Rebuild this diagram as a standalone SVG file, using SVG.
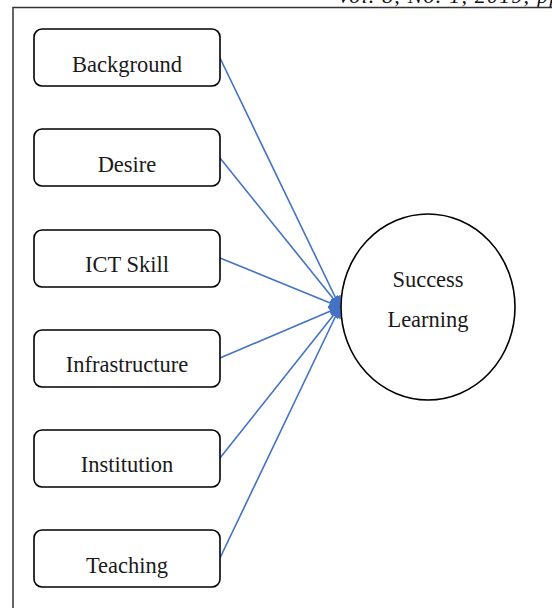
<svg xmlns="http://www.w3.org/2000/svg" width="552" height="608" viewBox="0 0 552 608">
  <style>
    .box { fill: #ffffff; stroke: #000000; stroke-width: 1.6; }
    .lbl { font-family: "Liberation Serif", "Times New Roman", serif; font-size: 22.5px; fill: #1a1a1a; text-anchor: middle; }
    .link { stroke: #4472C4; stroke-width: 1.6; fill: none; marker-end: url(#arrow); }
    .frame { stroke: #333333; stroke-width: 1.5; fill: none; }
    .header { font-family: "Liberation Serif", "Times New Roman", serif; font-style: italic; font-size: 22px; letter-spacing: 1.2px; fill: #111111; }
  </style>
  <defs>
    <marker id="arrow" viewBox="0 0 10 10" refX="9" refY="5" markerWidth="7.5" markerHeight="7.5" orient="auto" markerUnits="strokeWidth">
      <path d="M0,0 L10,5 L0,10 z" fill="#4472C4"/>
    </marker>
  </defs>
  <rect width="552" height="608" fill="#ffffff"/>

  <!-- running header, clipped at the top edge -->
  <text class="header" x="337" y="3">Vol. 8, No. 1, 2019, pp</text>

  <!-- page frame -->
  <path class="frame" d="M13,608 L13,7.5 L552,7.5"/>

  <g id="connectors">
    <line class="link" x1="220" y1="58" x2="340" y2="307"/>
    <line class="link" x1="220" y1="158" x2="340" y2="307"/>
    <line class="link" x1="220" y1="258" x2="340" y2="307"/>
    <line class="link" x1="220" y1="358" x2="340" y2="307"/>
    <line class="link" x1="220" y1="458" x2="340" y2="307"/>
    <line class="link" x1="220" y1="558" x2="340" y2="307"/>
  </g>

  <g id="background">
    <rect class="box" x="34" y="29" width="186" height="57" rx="8"/>
    <text class="lbl" x="127" y="72">Background</text>
  </g>
  <g id="desire">
    <rect class="box" x="34" y="129" width="186" height="57" rx="8"/>
    <text class="lbl" x="127" y="172">Desire</text>
  </g>
  <g id="ict-skill">
    <rect class="box" x="34" y="230" width="186" height="57" rx="8"/>
    <text class="lbl" x="127" y="272">ICT Skill</text>
  </g>
  <g id="infrastructure">
    <rect class="box" x="34" y="330" width="186" height="57" rx="8"/>
    <text class="lbl" x="127" y="372">Infrastructure</text>
  </g>
  <g id="institution">
    <rect class="box" x="34" y="430" width="186" height="57" rx="8"/>
    <text class="lbl" x="127" y="472">Institution</text>
  </g>
  <g id="teaching">
    <rect class="box" x="34" y="530" width="186" height="57" rx="8"/>
    <text class="lbl" x="127" y="573">Teaching</text>
  </g>

  <g id="success-learning">
    <ellipse class="box" cx="428" cy="307" rx="87" ry="93"/>
    <text class="lbl" x="428" y="287">Success</text>
    <text class="lbl" x="428" y="327">Learning</text>
  </g>
</svg>
